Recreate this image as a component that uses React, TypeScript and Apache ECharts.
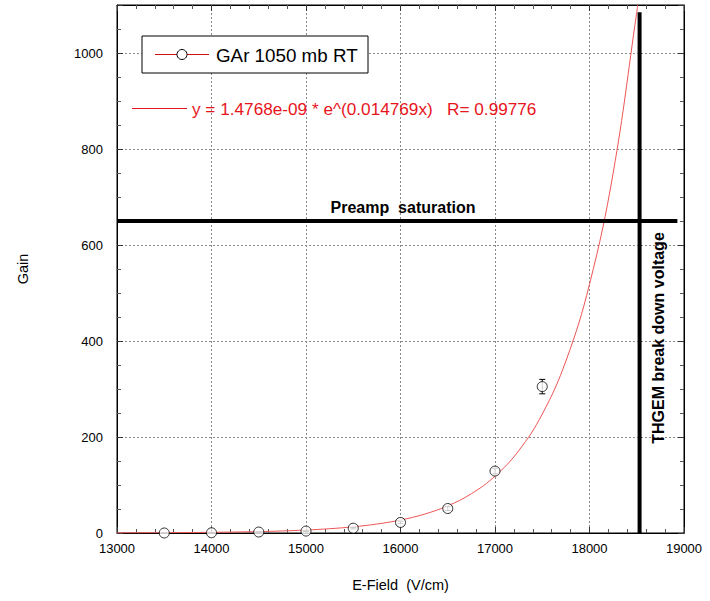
import React, { useEffect, useRef } from "react";
import * as echarts from "echarts";

// Measured data points
const eFields = [13500, 14000, 14500, 15000, 15500, 16000, 16500, 17000, 17500];
const gains = [0, 0.5, 2, 4, 10, 22, 51, 129, 305];
const gainErrors = [0.3, 0.3, 0.5, 0.8, 1.5, 2.5, 4, 6, 15];

// Fit curve values
const fitX = [13000, 13250, 13500, 13750, 14000, 14250, 14500, 14750, 15000, 15250, 15500, 15750, 16000, 16250, 16500, 16750, 17000, 17250, 17500, 17750, 18000, 18250, 18500, 18510];
const fitY = [0.32, 0.47, 0.67, 0.97, 1.41, 2.04, 2.95, 4.27, 6.17, 8.93, 12.92, 18.69, 27.03, 39.1, 56.58, 81.84, 118.4, 171.2, 247.7, 358.2, 518.2, 749.6, 1084.5, 1100.6];

// Reference lines
const preampX = [13000, 18930];
const preampY = [650, 650];
const breakdownX = [18530, 18530];
const breakdownY = [0, 1085];

// Axis ticks
const xTicks = [13000, 14000, 15000, 16000, 17000, 18000, 19000];
const yTicks = [0, 200, 400, 600, 800, 1000];

const FONT = "'Liberation Sans', Arial, Helvetica, sans-serif";
const RED = "#e8141c";

export default function App() {
  const ref = useRef<HTMLDivElement>(null);
  useEffect(() => {
    document.body.style.margin = "0";
    const chart = echarts.init(ref.current!, null, { renderer: "svg" });
    const gridLine = { show: true, lineStyle: { color: "#8a8a8a", type: [2, 2] as any, width: 1 } };
    const baseX = {
      type: "value" as const,
      min: xTicks[0],
      max: xTicks[xTicks.length - 1],
      interval: 1000,
      axisLine: { show: true, onZero: false, lineStyle: { color: "#000" } },
      axisTick: { show: true, inside: true, length: 6, lineStyle: { color: "#333" } },
      minorTick: { show: true, splitNumber: 5, length: 4, lineStyle: { color: "#555" } },
    };
    const baseY = {
      type: "value" as const,
      min: 0,
      max: 1100,
      interval: 200,
      axisLine: { show: true, onZero: false, lineStyle: { color: "#000" } },
      axisTick: { show: true, inside: true, length: 6, lineStyle: { color: "#333" } },
      minorTick: { show: true, splitNumber: 4, length: 4, lineStyle: { color: "#555" } },
    };
    chart.setOption({
      animation: false,
      backgroundColor: "#fff",
      textStyle: { fontFamily: FONT },
      grid: { left: 117, right: 26, top: 5, bottom: 68, show: true, borderColor: "#000", borderWidth: 1, backgroundColor: "transparent" },
      xAxis: [
        {
          ...baseX,
          position: "bottom",
          name: "E-Field  (V/cm)",
          nameLocation: "middle",
          nameGap: 44,
          nameTextStyle: { fontSize: 14.5, color: "#000", fontFamily: FONT },
          axisLabel: {
            fontSize: 13,
            color: "#000",
            margin: 9,
            fontFamily: FONT,
            formatter: (v: number) => (xTicks.indexOf(v) >= 0 ? String(v) : ""),
          },
          splitLine: gridLine,
        },
        {
          ...baseX,
          position: "top",
          axisLabel: { show: false },
          splitLine: { show: false },
        },
      ],
      yAxis: [
        {
          ...baseY,
          position: "left",
          name: "Gain",
          nameLocation: "middle",
          nameGap: 87,
          nameTextStyle: { fontSize: 14.5, color: "#000", fontFamily: FONT },
          axisLabel: {
            fontSize: 13,
            color: "#000",
            margin: 14,
            fontFamily: FONT,
            formatter: (v: number) => (yTicks.indexOf(v) >= 0 ? String(v) : ""),
          },
          splitLine: gridLine,
        },
        {
          ...baseY,
          position: "right",
          axisLabel: { show: false },
          splitLine: { show: false },
        },
      ],
      series: [
        {
          type: "line",
          name: "fit",
          data: fitX.map((x, i) => [x, fitY[i]]),
          showSymbol: false,
          smooth: 0.4,
          lineStyle: { color: "#ee5555", width: 1 },
          z: 2,
        },
        {
          type: "line",
          name: "Preamp saturation",
          data: preampX.map((x, i) => [x, preampY[i]]),
          showSymbol: false,
          lineStyle: { color: "#000", width: 4 },
          z: 3,
        },
        {
          type: "line",
          name: "THGEM break down voltage",
          data: breakdownX.map((x, i) => [x, breakdownY[i]]),
          showSymbol: false,
          lineStyle: { color: "#000", width: 4 },
          z: 3,
        },
        {
          type: "custom",
          name: "errors",
          data: eFields.map((x, i) => [x, gains[i], gainErrors[i]]),
          renderItem: (params: any, api: any) => {
            const x = api.value(0);
            const y = api.value(1);
            const e = api.value(2);
            const top = api.coord([x, y + e]);
            const bot = api.coord([x, y - e]);
            const cap = 3;
            return {
              type: "group",
              children: [
                { type: "line", shape: { x1: top[0], y1: top[1], x2: bot[0], y2: bot[1] }, style: { stroke: "#000", lineWidth: 1 } },
                { type: "line", shape: { x1: top[0] - cap, y1: top[1], x2: top[0] + cap, y2: top[1] }, style: { stroke: "#000", lineWidth: 1 } },
                { type: "line", shape: { x1: bot[0] - cap, y1: bot[1], x2: bot[0] + cap, y2: bot[1] }, style: { stroke: "#000", lineWidth: 1 } },
              ],
            };
          },
          z: 4,
        },
        {
          type: "scatter",
          name: "GAr 1050 mb RT",
          data: eFields.map((x, i) => [x, gains[i]]),
          symbol: "circle",
          symbolSize: 10,
          itemStyle: { color: "#fff", borderColor: "#000", borderWidth: 1 },
          z: 5,
        },
      ],
      graphic: [
        { type: "rect", shape: { x: 142, y: 36, width: 226, height: 37 }, style: { fill: "#fff", stroke: "#000", lineWidth: 1 }, z: 10 },
        { type: "line", shape: { x1: 155, y1: 54.5, x2: 209, y2: 54.5 }, style: { stroke: "#d01010", lineWidth: 1 }, z: 11 },
        { type: "circle", shape: { cx: 182, cy: 54.5, r: 5 }, style: { fill: "#fff", stroke: "#000", lineWidth: 1 }, z: 12 },
        { type: "text", x: 216, y: 55, style: { text: "GAr 1050 mb RT", fontSize: 18.8, fill: "#000", fontFamily: FONT, verticalAlign: "middle", align: "left" }, z: 12 },
        { type: "line", shape: { x1: 132, y1: 108.5, x2: 187, y2: 108.5 }, style: { stroke: RED, lineWidth: 1 }, z: 11 },
        { type: "text", x: 192, y: 109, style: { text: "y = 1.4768e-09 * e^(0.014769x)   R= 0.99776", fontSize: 17.2, fill: RED, fontFamily: FONT, verticalAlign: "middle", align: "left" }, z: 12 },
        { type: "text", x: 403, y: 207, style: { text: "Preamp  saturation", fontSize: 16, fontWeight: "bold", fill: "#000", fontFamily: FONT, verticalAlign: "middle", align: "center" }, z: 12 },
        { type: "text", x: 658, y: 338, rotation: Math.PI / 2, style: { text: "THGEM break down voltage", fontSize: 16, fontWeight: "bold", fill: "#000", fontFamily: FONT, verticalAlign: "middle", align: "center" }, z: 12 },
      ],
    });
    return () => chart.dispose();
  }, []);
  return <div ref={ref} style={{ width: 710, height: 601 }} />;
}
